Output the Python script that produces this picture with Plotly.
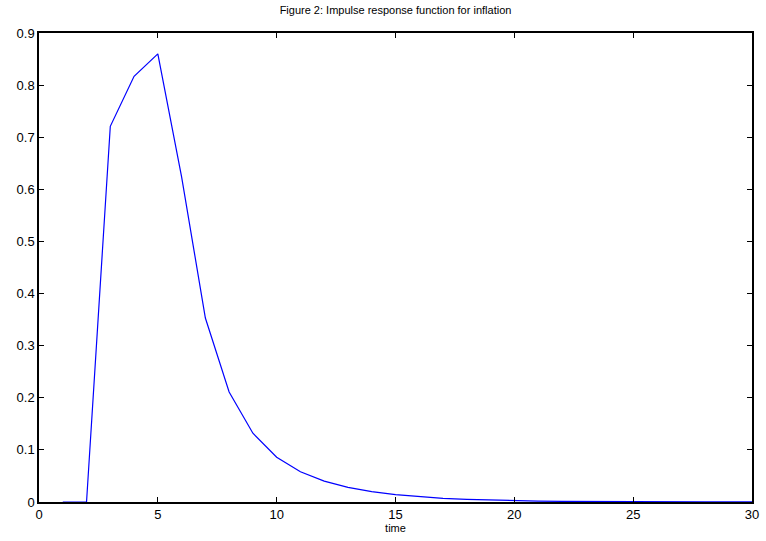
import plotly.graph_objects as go

time = list(range(1, 31))
response = [0.0, 0.0, 0.721, 0.817, 0.860, 0.624, 0.353, 0.211, 0.132, 0.086,
            0.058, 0.040, 0.028, 0.020, 0.014, 0.010, 0.007, 0.005, 0.0035, 0.0025,
            0.0018, 0.0013, 0.0009, 0.0006, 0.0004, 0.0003, 0.0002, 0.00015, 0.0001, 0.00007]

x_ticks = [0, 5, 10, 15, 20, 25, 30]
y_ticks = [0, 0.1, 0.2, 0.3, 0.4, 0.5, 0.6, 0.7, 0.8, 0.9]
y_tick_text = ["0", "0.1", "0.2", "0.3", "0.4", "0.5", "0.6", "0.7", "0.8", "0.9"]

fig = go.Figure()
fig.add_trace(go.Scatter(x=time, y=response, mode="lines",
                         line=dict(color="#0000ff", width=1.2), showlegend=False))

axis_common = dict(showline=True, linecolor="black", linewidth=1.5, mirror="ticks",
                   ticks="inside", ticklen=5, tickcolor="black", tickwidth=1,
                   showgrid=False, zeroline=False, automargin=False,
                   tickfont=dict(family="Liberation Sans, Arial, sans-serif", size=13, color="black"))

fig.update_xaxes(range=[0, 30], tickvals=x_ticks, ticktext=[str(v) for v in x_ticks],
                 title=dict(text="time", font=dict(family="Liberation Sans, Arial, sans-serif", size=11, color="black"),
                            standoff=2),
                 **axis_common)
fig.update_yaxes(range=[0, 0.9], tickvals=y_ticks, ticktext=y_tick_text, **axis_common)

fig.update_layout(
    width=766, height=541,
    margin=dict(l=39, r=14, t=33, b=39),
    paper_bgcolor="white", plot_bgcolor="white",
    title=dict(text="Figure 2: Impulse response function for inflation",
               font=dict(family="Liberation Sans, Arial, sans-serif", size=11, color="black"),
               x=0.5, xref="paper", xanchor="center", y=1, yref="paper", yanchor="bottom", pad=dict(b=19)),
)

fig.write_html("out.html", config={"displayModeBar": False},
               post_script="document.body.style.margin='0';document.body.style.overflow='hidden';")
